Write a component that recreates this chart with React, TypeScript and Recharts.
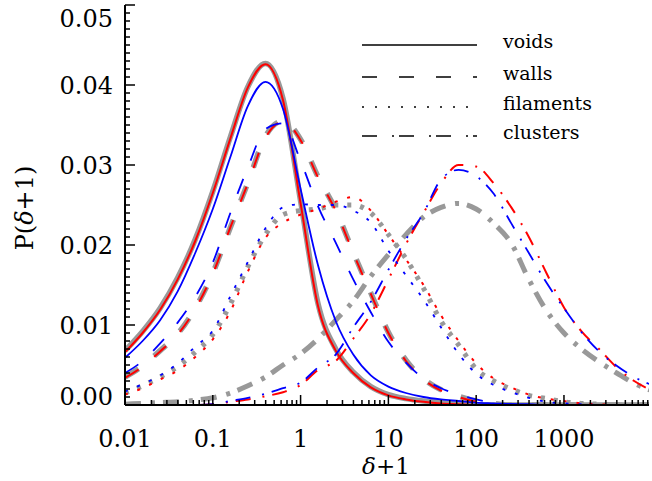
import React from 'react';
import { LineChart, Line, XAxis, YAxis } from 'recharts';

const W = 652;
const H = 481;
const GRAY = '#999999';
const RED = '#ff0000';
const BLUE = '#0000ff';
const FONT = '"DejaVu Serif", serif';

// log10(delta+1) sample points
const logX = [
  -2, -1.8, -1.6, -1.4, -1.2, -1, -0.8, -0.6, -0.4, -0.2, 0, 0.2, 0.4, 0.6, 0.8, 1,
  1.2, 1.4, 1.6, 1.8, 2, 2.2, 2.4, 2.6, 2.8, 3, 3.2, 3.4, 3.6, 3.8, 4,
];

const voidsGray = [
  0.0068, 0.0092, 0.0121, 0.0159, 0.0207, 0.0267, 0.0335, 0.0398, 0.0427, 0.0383, 0.0255, 0.0126,
  0.007, 0.0041, 0.0023, 0.0013, 0.0008, 0.0005, 0.0003, 0.0001, 0, 0, 0, 0, 0, 0, 0, 0, 0, 0, 0,
];
const voidsRed = [
  0.0066, 0.009, 0.0119, 0.0157, 0.0205, 0.0265, 0.0333, 0.0397, 0.0426, 0.0381, 0.0252, 0.0123,
  0.0068, 0.004, 0.0022, 0.0012, 0.0007, 0.0004, 0.0002, 0.0001, 0, 0, 0, 0, 0, 0, 0, 0, 0, 0, 0,
];
const voidsBlue = [
  0.0059, 0.008, 0.0106, 0.0142, 0.019, 0.0245, 0.031, 0.0374, 0.0404, 0.037, 0.027, 0.0174,
  0.0105, 0.0063, 0.0037, 0.0023, 0.0015, 0.001, 0.0007, 0.0005, 0.0003, 0.0002, 0.0001, 0.0001, 0,
  0, 0, 0, 0, 0, 0,
];

const wallsGray = [
  0.0035, 0.0049, 0.0068, 0.0089, 0.0121, 0.0165, 0.0222, 0.0278, 0.0336, 0.0355, 0.0332, 0.0285,
  0.0244, 0.0191, 0.014, 0.0091, 0.0056, 0.0033, 0.0019, 0.0011, 0.0005, 0.0002, 0, 0, 0, 0, 0, 0, 0,
  0, 0,
];
const wallsRed = [
  0.0034, 0.0048, 0.0067, 0.0088, 0.012, 0.0164, 0.0222, 0.0277, 0.0334, 0.0354, 0.0331, 0.0284,
  0.0243, 0.019, 0.0139, 0.009, 0.0055, 0.0032, 0.0018, 0.001, 0.0004, 0.0001, 0, 0, 0, 0, 0, 0, 0,
  0, 0,
];
const wallsBlue = [
  0.004, 0.0055, 0.0077, 0.0103, 0.0135, 0.0178, 0.024, 0.0297, 0.0345, 0.0352, 0.0305, 0.0248,
  0.0203, 0.0157, 0.0116, 0.0079, 0.0053, 0.0033, 0.0021, 0.0013, 0.0007, 0.0003, 0.0001, 0, 0, 0,
  0, 0, 0, 0, 0,
];

const filamentsGray = [
  0.0015, 0.0024, 0.0035, 0.0048, 0.0066, 0.0088, 0.0126, 0.0173, 0.0213, 0.0238, 0.0243, 0.0245,
  0.025, 0.025, 0.024, 0.0213, 0.0183, 0.0146, 0.0105, 0.0075, 0.0045, 0.003, 0.002, 0.0012, 0.0008,
  0.0004, 0.0002, 0.0001, 0, 0, 0,
];
const filamentsRed = [
  0.0013, 0.0021, 0.0032, 0.0043, 0.006, 0.0082, 0.0117, 0.0167, 0.0209, 0.0228, 0.0238, 0.0245,
  0.0254, 0.026, 0.0243, 0.0213, 0.0182, 0.015, 0.0112, 0.008, 0.0052, 0.0033, 0.0022, 0.0013,
  0.0008, 0.0005, 0.0002, 0.0001, 0, 0, 0,
];
const filamentsBlue = [
  0.0017, 0.0026, 0.0037, 0.0052, 0.0073, 0.0093, 0.0136, 0.0179, 0.0221, 0.0247, 0.0251, 0.025,
  0.025, 0.0243, 0.0228, 0.0193, 0.0162, 0.0132, 0.0097, 0.0064, 0.0039, 0.0025, 0.0016, 0.0009,
  0.0004, 0.0002, 0.0001, 0, 0, 0, 0,
];

const clustersGray = [
  0.0001, 0.0002, 0.0003, 0.0004, 0.0006, 0.0009, 0.0015, 0.0024, 0.0035, 0.005, 0.0064, 0.0083,
  0.0106, 0.013, 0.0161, 0.0188, 0.0213, 0.0235, 0.0247, 0.0252, 0.0245, 0.0227, 0.0202, 0.0157,
  0.0118, 0.009, 0.007, 0.0054, 0.004, 0.0027, 0.0018,
];
const clustersRed = [
  0, 0, 0, 0, 0, 0.0001, 0.0004, 0.0007, 0.0011, 0.0016, 0.0025, 0.0044, 0.0055, 0.0083, 0.0114,
  0.0157, 0.0201, 0.024, 0.0277, 0.03, 0.0298, 0.0277, 0.0247, 0.021, 0.0165, 0.0122, 0.0092, 0.007,
  0.0047, 0.003, 0.0018,
];
const clustersBlue = [
  0, 0, 0, 0, 0, 0.0001, 0.0005, 0.0009, 0.0014, 0.0021, 0.0028, 0.0047, 0.0063, 0.0097, 0.0129,
  0.0169, 0.0207, 0.024, 0.0282, 0.0294, 0.0286, 0.0264, 0.0227, 0.019, 0.0153, 0.0121, 0.0091,
  0.0067, 0.0049, 0.0035, 0.0025,
];

const xMajor = [0.01, 0.1, 1, 10, 100, 1000];
const xMajorLabels = ['0.01', '0.1', '1', '10', '100', '1000'];
const yMajor = [0, 0.01, 0.02, 0.03, 0.04, 0.05];
const yMajorLabels = ['0.00', '0.01', '0.02', '0.03', '0.04', '0.05'];

const legendNames = ['voids', 'walls', 'filaments', 'clusters'];
const legendDashes = [undefined, '15 22', '2 11', '15 15 2 5'];

const xMinor = xMajor.flatMap((d) => [2, 3, 4, 5, 6, 7, 8, 9].map((m) => +(m * d).toPrecision(3)));
const xTicks = [...xMajor, ...xMinor].sort((a, b) => a - b);
const yTicks = Array.from({ length: 51 }, (_, i) => +(i * 0.001).toFixed(3));

const data = logX.map((l, i) => ({
  x: Math.pow(10, l),
  voidsGray: voidsGray[i],
  voidsRed: voidsRed[i],
  voidsBlue: voidsBlue[i],
  wallsGray: wallsGray[i],
  wallsRed: wallsRed[i],
  wallsBlue: wallsBlue[i],
  filamentsGray: filamentsGray[i],
  filamentsRed: filamentsRed[i],
  filamentsBlue: filamentsBlue[i],
  clustersGray: clustersGray[i],
  clustersRed: clustersRed[i],
  clustersBlue: clustersBlue[i],
}));

const series = [
  { key: 'voidsGray', color: GRAY, width: 5.5, dash: undefined },
  { key: 'wallsGray', color: GRAY, width: 5.5, dash: '16 20' },
  { key: 'filamentsGray', color: GRAY, width: 5, dash: '4 9' },
  { key: 'clustersGray', color: GRAY, width: 5, dash: '16 10 4 8' },
  { key: 'voidsRed', color: RED, width: 2, dash: undefined },
  { key: 'wallsRed', color: RED, width: 2, dash: '16 20' },
  { key: 'filamentsRed', color: RED, width: 2, dash: '3 10' },
  { key: 'clustersRed', color: RED, width: 2, dash: '15 12 2 8' },
  { key: 'voidsBlue', color: BLUE, width: 1.8, dash: undefined },
  { key: 'wallsBlue', color: BLUE, width: 1.8, dash: '16 20' },
  { key: 'filamentsBlue', color: BLUE, width: 1.8, dash: '3 10' },
  { key: 'clustersBlue', color: BLUE, width: 1.8, dash: '15 12 2 8' },
];

const majorIndex = (list: number[], v: number) =>
  list.findIndex((m) => Math.abs(m - v) < m * 1e-6 + 1e-9);

const BottomTick = (props: any) => {
  const { x, y, payload } = props;
  const i = majorIndex(xMajor, payload.value);
  return (
    <g>
      <line x1={x} x2={x} y1={y} y2={y - (i >= 0 ? 10 : 5)} stroke="#000" strokeWidth={1.5} />
      {i >= 0 && (
        <text x={x} y={y + 42} textAnchor="middle" fontFamily={FONT} fontSize={24} fill="#000">
          {xMajorLabels[i]}
        </text>
      )}
    </g>
  );
};

const TopTick = (props: any) => {
  const { x, y, payload } = props;
  const i = majorIndex(xMajor, payload.value);
  return <line x1={x} x2={x} y1={y} y2={y + (i >= 0 ? 10 : 5)} stroke="#000" strokeWidth={1.5} />;
};

const LeftTick = (props: any) => {
  const { x, y, payload } = props;
  const i = yMajor.findIndex((m) => Math.abs(m - payload.value) < 1e-7);
  const dy = i === 0 ? 0 : i === yMajor.length - 1 ? 22 : 9;
  return (
    <g>
      <line x1={x} x2={x + (i >= 0 ? 10 : 5)} y1={y} y2={y} stroke="#000" strokeWidth={1.5} />
      {i >= 0 && (
        <text x={x - 12} y={y + dy} textAnchor="end" fontFamily={FONT} fontSize={24} fill="#000">
          {yMajorLabels[i]}
        </text>
      )}
    </g>
  );
};

const RightTick = (props: any) => {
  const { x, y, payload } = props;
  const i = yMajor.findIndex((m) => Math.abs(m - payload.value) < 1e-7);
  return <line x1={x} x2={x - (i >= 0 ? 10 : 5)} y1={y} y2={y} stroke="#000" strokeWidth={1.5} />;
};

const legendRows = [45, 77, 107, 136];

export default function App() {
  return (
    <div style={{ position: 'absolute', left: 0, top: 0, width: W, height: H, background: '#fff' }}>
      <LineChart width={W} height={H} data={data} margin={{ top: 5, right: 3, bottom: 0, left: 0 }}>
        <XAxis
          dataKey="x"
          type="number"
          scale="log"
          domain={[0.01, 9300]}
          allowDataOverflow
          ticks={xTicks}
          interval={0}
          tickSize={0}
          tickMargin={0}
          tickLine={false}
          tick={<BottomTick />}
          height={76}
          axisLine={{ stroke: '#000', strokeWidth: 2 }}
        />
        <XAxis
          xAxisId="top"
          orientation="top"
          dataKey="x"
          type="number"
          scale="log"
          domain={[0.01, 9300]}
          allowDataOverflow
          ticks={xTicks}
          interval={0}
          tickSize={0}
          tickMargin={0}
          tickLine={false}
          tick={<TopTick />}
          height={0}
          axisLine={{ stroke: '#000', strokeWidth: 2 }}
        />
        <YAxis
          type="number"
          domain={[0, 0.05]}
          allowDataOverflow
          ticks={yTicks}
          interval={0}
          tickSize={0}
          tickMargin={0}
          tickLine={false}
          tick={<LeftTick />}
          width={125}
          axisLine={{ stroke: '#000', strokeWidth: 2 }}
        />
        <YAxis
          yAxisId="right"
          orientation="right"
          type="number"
          domain={[0, 0.05]}
          allowDataOverflow
          ticks={yTicks}
          interval={0}
          tickSize={0}
          tickMargin={0}
          tickLine={false}
          tick={<RightTick />}
          width={0}
          axisLine={{ stroke: '#000', strokeWidth: 2 }}
        />
        {series.map((s) => (
          <Line
            key={s.key}
            dataKey={s.key}
            type="monotone"
            stroke={s.color}
            strokeWidth={s.width}
            strokeDasharray={s.dash}
            dot={false}
            activeDot={false}
            isAnimationActive={false}
          />
        ))}
      </LineChart>

      {/* legend and axis titles */}
      <svg
        width={W}
        height={H}
        style={{ position: 'absolute', left: 0, top: 0, pointerEvents: 'none' }}
      >
        {legendNames.map((name, i) => (
          <g key={name}>
            <line
              x1={362}
              x2={477}
              y1={legendRows[i]}
              y2={legendRows[i]}
              stroke="#000"
              strokeWidth={1.5}
              strokeDasharray={legendDashes[i]}
            />
            <text x={503} y={legendRows[i] + 3} fontFamily={FONT} fontSize={19} fill="#000">
              {name}
            </text>
          </g>
        ))}
        <text x={386} y={474} textAnchor="middle" fontFamily={FONT} fontSize={23} fill="#000">
          <tspan fontStyle="italic">δ</tspan>+1
        </text>
        <text
          transform="translate(33, 208) rotate(-90)"
          textAnchor="middle"
          fontFamily={FONT}
          fontSize={24}
          fill="#000"
        >
          P(<tspan fontStyle="italic">δ</tspan>+1)
        </text>
      </svg>
    </div>
  );
}
